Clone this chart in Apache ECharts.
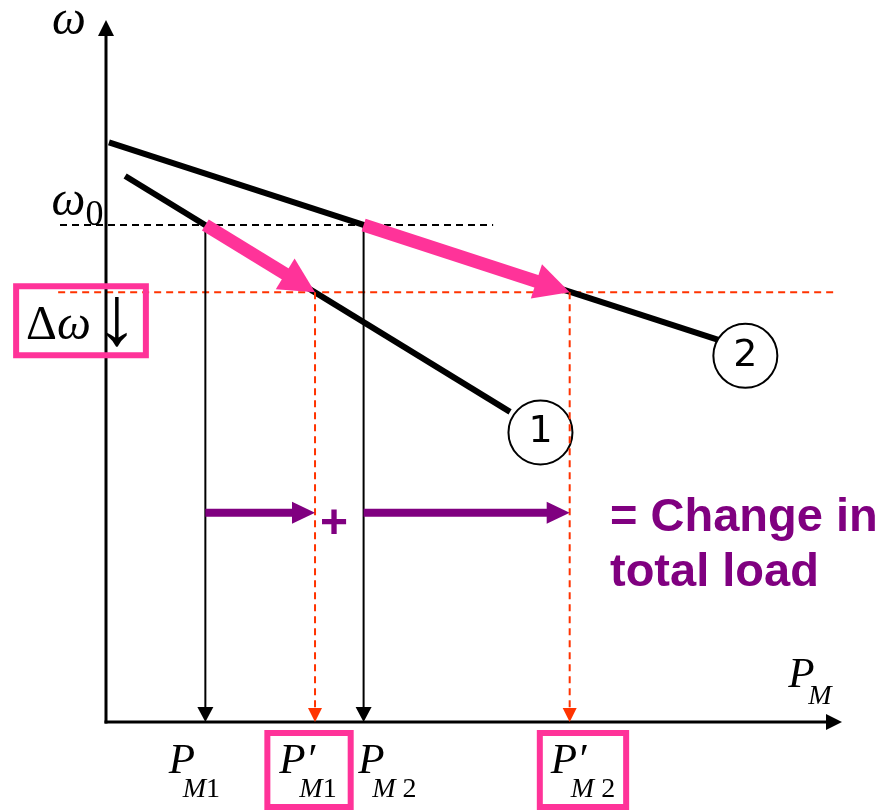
<!DOCTYPE html>
<html>
<head>
<meta charset="utf-8">
<title>Load sharing between two droop-controlled units</title>
<script src="https://cdn.jsdelivr.net/npm/echarts@6/dist/echarts.min.js"></script>
<style>
  html, body { margin: 0; padding: 0; background: #ffffff; }
  #chart { width: 895px; height: 811px; }
</style>
</head>
<body>
<div id="chart"></div>
<script>
// Speed (ω) versus mechanical power (P_M) for two generating units with droop control.
// Both axes run on a 0–100 scale.

const omega0 = 71;              // initial speed ω0
const omegaNew = 61.4;          // speed after the load increase (ω0 − Δω)
const pmInitial = [13.5, 35];   // P_M1, P_M2
const pmFinal = [28.4, 63];     // P'_M1, P'_M2
const droop1 = [[2.6, 78.0], [54.9, 44.3]];   // unit 1 characteristic
const droop2 = [[0.4, 82.8], [83.2, 54.6]];   // unit 2 characteristic
const unitNames = ['1', '2'];
const loadArrowLevel = 29.9;    // height of the "change in load" arrows
const axisTips = { x: 100, y: 100.3 };
const omega0Extent = [-6.25, 52.6];
const omegaNewExtent = [-6.5, 99];

const PINK = '#FF3399';
const RED = '#FF3300';
const PURPLE = '#800080';
const SERIF = "'Liberation Serif', 'Times New Roman', 'DejaVu Serif', serif";
const SANS = "'Liberation Sans', Arial, 'DejaVu Sans', sans-serif";

// Segment / arrow series: each datum is [x1, y1, x2, y2]; a head (if any) points at (x2, y2).
function arrowSeries(name, segments, st, z) {
  return {
    type: 'custom',
    name: name,
    z: z,
    silent: true,
    clip: false,
    data: segments,
    encode: { x: [0, 2], y: [1, 3] },
    renderItem: function (params, api) {
      const a = api.coord([api.value(0), api.value(1)]);
      const b = api.coord([api.value(2), api.value(3)]);
      const dx = b[0] - a[0], dy = b[1] - a[1];
      const len = Math.hypot(dx, dy) || 1;
      const ux = dx / len, uy = dy / len;
      const hl = st.headLength || 0;
      const hw = (st.headWidth || 0) / 2;
      const bx = b[0] - ux * hl, by = b[1] - uy * hl;
      const back = st.dash ? hl : hl * 0.5;
      const children = [{
        type: 'line',
        shape: { x1: a[0], y1: a[1], x2: b[0] - ux * back, y2: b[1] - uy * back },
        style: { stroke: st.color, lineWidth: st.width, lineDash: st.dash || null, lineCap: st.cap || 'butt' }
      }];
      if (hl) {
        children.push({
          type: 'polygon',
          shape: { points: [[b[0], b[1]], [bx - uy * hw, by + ux * hw], [bx + uy * hw, by - ux * hw]] },
          style: { fill: st.color }
        });
      }
      return { type: 'group', children: children };
    }
  };
}

function plainLine(name, pts, color, width, z) {
  return {
    type: 'line', name: name, data: pts, symbol: 'none', silent: true, clip: false, z: z,
    lineStyle: { color: color, width: width, type: 'solid' },
    emphasis: { disabled: true }
  };
}

const rich = {
  v:  { fontFamily: SERIF, fontStyle: 'italic', fontSize: 43, lineHeight: 64, verticalAlign: 'top', align: 'left', width: 14, color: '#000' },
  vp: { fontFamily: SERIF, fontStyle: 'italic', fontSize: 43, lineHeight: 64, verticalAlign: 'top', align: 'left', width: 20, color: '#000' },
  vq: { fontFamily: SERIF, fontStyle: 'italic', fontSize: 43, lineHeight: 56, verticalAlign: 'top', align: 'left', width: 20, color: '#000' },
  s:  { fontFamily: SERIF, fontStyle: 'italic', fontSize: 28, lineHeight: 20, verticalAlign: 'bottom', align: 'left', color: '#000' },
  n:  { fontFamily: SERIF, fontSize: 28, lineHeight: 20, verticalAlign: 'bottom', align: 'left', color: '#000' },
  w:  { fontFamily: SERIF, fontStyle: 'italic', fontSize: 48, lineHeight: 60, verticalAlign: 'top', align: 'left', color: '#000' },
  w0: { fontFamily: SERIF, fontStyle: 'italic', fontSize: 48, lineHeight: 55, verticalAlign: 'top', align: 'left', color: '#000' },
  z:  { fontFamily: SERIF, fontSize: 36, lineHeight: 40, verticalAlign: 'bottom', align: 'left', color: '#000' },
  g:  { fontFamily: SERIF, fontSize: 48, lineHeight: 57, align: 'left', color: '#000' },
  gi: { fontFamily: SERIF, fontStyle: 'italic', fontSize: 48, lineHeight: 57, align: 'left', color: '#000' },
  ar: { fontFamily: SERIF, fontSize: 84, lineHeight: 57, align: 'left', padding: [0, 0, 10, 5], color: '#000' },
  plus: { fontFamily: SANS, fontWeight: 'bold', fontSize: 48, lineHeight: 50, color: PURPLE }
};

const boxed = { borderColor: PINK, borderWidth: 6 };

const textItems = [
  { value: [0, axisTips.y], label: { formatter: '{w|ω}', offset: [-37, 7] } },
  { value: [0, omega0], label: { formatter: '{w0|ω}{z|0}', offset: [-28.5, -18.8] } },
  { value: [0, omegaNew], label: Object.assign({ formatter: '{g|Δ}{gi|ω}{ar|↓}', offset: [-25, 28.5], padding: [12, 8, 0, 10] }, boxed) },
  { value: [axisTips.x, 0], label: { formatter: '{vq|P}{s|M}', offset: [-32, -39.5] } },
  { value: [pmInitial[0], 0], label: { formatter: '{v|P}{s|M}{n|1}', offset: [-11, 55], padding: [2, 0, 12, 0] } },
  { value: [pmFinal[0], 0], label: Object.assign({ formatter: '{vp|P′}{s|M}{n|1}', offset: [-6, 48], padding: [7, 14, 3, 12] }, boxed) },
  { value: [pmInitial[1], 0], label: { formatter: '{v|P}{s|M}{n| 2}', offset: [23.75, 55], padding: [2, 0, 12, 0] } },
  { value: [pmFinal[1], 0], label: Object.assign({ formatter: '{vp|P′}{s|M}{n| 2}', offset: [13.3, 48], padding: [7, 11, 3, 11] }, boxed) },
  { value: [pmFinal[0], loadArrowLevel], label: { formatter: '{plus|+}', offset: [19, 12] } },
  { value: [pmFinal[1], loadArrowLevel], label: {
      formatter: '= Change in\ntotal load', position: 'right', distance: 0, offset: [40.3, 33.2],
      fontFamily: SANS, fontWeight: 'bold', fontSize: 47, lineHeight: 55, color: PURPLE, align: 'left' } }
];

const option = {
  animation: false,
  backgroundColor: '#ffffff',
  grid: { left: 106, top: 22, width: 736, height: 700, containLabel: false },
  xAxis: { type: 'value', min: 0, max: 100, show: false, splitLine: { show: false } },
  yAxis: { type: 'value', min: 0, max: 100, show: false, splitLine: { show: false } },
  series: [
    // axes
    arrowSeries('axes', [[0, 0, 0, axisTips.y], [0, 0, axisTips.x, 0]],
      { color: '#000', width: 3, headLength: 16, headWidth: 16, cap: 'square' }, 3),
    // reference speed levels
    arrowSeries('omega0', [[omega0Extent[0], omega0, omega0Extent[1], omega0]],
      { color: '#000', width: 2, dash: [7, 5] }, 2),
    arrowSeries('omegaNew', [[omegaNewExtent[0], omegaNew, omegaNewExtent[1], omegaNew]],
      { color: RED, width: 2, dash: [7, 5] }, 2),
    // droop characteristics
    plainLine('unit 1', droop1, '#000', 6, 2),
    plainLine('unit 2', droop2, '#000', 6, 2),
    // initial operating points projected to the power axis
    arrowSeries('initial output', pmInitial.map(function (p) { return [p, omega0, p, 0]; }),
      { color: '#000', width: 2, headLength: 15, headWidth: 16 }, 3),
    // unit labels at the end of each characteristic
    {
      type: 'scatter', name: 'units', silent: true, clip: false, z: 4,
      data: [
        { value: droop1[1], name: unitNames[0], symbolOffset: [30.4, 20.6] },
        { value: droop2[1], name: unitNames[1], symbolOffset: [27, 16] }
      ],
      symbol: 'circle', symbolSize: 64,
      itemStyle: { color: '#ffffff', borderColor: '#000', borderWidth: 2, opacity: 1 },
      label: { show: true, position: 'inside', formatter: '{b}', color: '#000', fontFamily: "'DejaVu Sans', sans-serif", fontSize: 38 },
      emphasis: { disabled: true }
    },
    // new operating points projected to the power axis
    arrowSeries('final output', pmFinal.map(function (p) { return [p, omegaNew, p, 0]; }),
      { color: RED, width: 2, headLength: 14, headWidth: 14, dash: [7, 5] }, 5),
    // movement along each characteristic
    arrowSeries('operating point shift', pmInitial.map(function (p, i) { return [p, omega0, pmFinal[i], omegaNew]; }),
      { color: PINK, width: 13, headLength: 35, headWidth: 36 }, 6),
    // change in output of each unit
    arrowSeries('output change', pmInitial.map(function (p, i) { return [p, loadArrowLevel, pmFinal[i], loadArrowLevel]; }),
      { color: PURPLE, width: 8, headLength: 23, headWidth: 22 }, 6),
    // text
    {
      type: 'scatter', name: 'text', silent: true, clip: false, z: 7,
      symbolSize: 0,
      itemStyle: { opacity: 1 },
      data: textItems,
      label: { show: true, position: 'inside', rich: rich, color: '#000' },
      emphasis: { disabled: true }
    }
  ]
};

const chart = echarts.init(document.getElementById('chart'));
chart.setOption(option);
</script>
</body>
</html>
